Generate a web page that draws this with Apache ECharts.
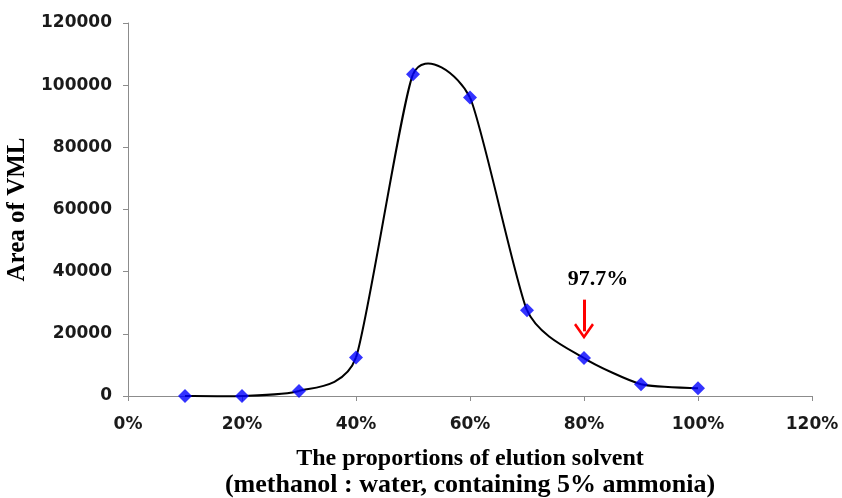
<!DOCTYPE html>
<html><head><meta charset="utf-8">
<script src="https://cdn.jsdelivr.net/npm/echarts@6/dist/echarts.min.js"></script>
<style>html,body{margin:0;padding:0;background:#fff}#c{width:842px;height:498px}</style>
</head><body><div id="c"></div>
<script>
const proportions = [0.1, 0.2, 0.3, 0.4, 0.5, 0.6, 0.7, 0.8, 0.9, 1.0];
const areas = [0, 0, 1600, 12400, 103500, 96000, 27600, 12200, 3800, 2500];
const xTicks = [0, 0.2, 0.4, 0.6, 0.8, 1.0, 1.2];
const yTicks = [0, 20000, 40000, 60000, 80000, 100000, 120000];
const annotationText = '97.7%';
const arrowX = 0.8;
const arrowFrom = 31000;
const arrowTo = 20800;
const tension = 0.1;

const points = proportions.map((p, i) => [p, areas[i]]);
const chart = echarts.init(document.getElementById('c'));
const tickFont = {fontFamily: 'DejaVu Sans, sans-serif', fontWeight: 'bold', fontSize: 17, color: '#1a1a1a'};
const serif = 'Liberation Serif, Times New Roman, serif';

function renderSegment(params, api) {
  const i = params.dataIndex;
  const n = points.length;
  if (i >= n - 1) return null;
  const c = k => api.coord(points[Math.max(0, Math.min(n - 1, k))]);
  const p0 = c(i - 1), p1 = c(i), p2 = c(i + 1), p3 = c(i + 2);
  const cp1 = [p1[0] + (p2[0] - p0[0]) * tension, p1[1] + (p2[1] - p0[1]) * tension];
  const cp2 = [p2[0] - (p3[0] - p1[0]) * tension, p2[1] - (p3[1] - p1[1]) * tension];
  return {
    type: 'bezierCurve',
    shape: {x1: p1[0], y1: p1[1], x2: p2[0], y2: p2[1], cpx1: cp1[0], cpy1: cp1[1], cpx2: cp2[0], cpy2: cp2[1]},
    style: {stroke: '#000', lineWidth: 2, fill: null}
  };
}

chart.setOption({
  animation: false,
  grid: {left: 128, right: 30, top: 23, bottom: 102, containLabel: false, outerBoundsMode: 'none'},
  xAxis: {
    type: 'value', min: xTicks[0], max: xTicks[xTicks.length-1], interval: 0.2,
    name: '{a|The proportions of elution solvent}\n{b|(methanol : water, containing 5% ammonia)}',
    nameLocation: 'middle', nameGap: 49,
    nameTextStyle: {
      rich: {
        a: {fontFamily: serif, fontWeight: 'bold', fontSize: 24, color: '#000', lineHeight: 27},
        b: {fontFamily: serif, fontWeight: 'bold', fontSize: 26, color: '#000', lineHeight: 27}
      }
    },
    axisLine: {lineStyle: {color: '#8c8c8c', width: 1}},
    axisTick: {show: true, length: 5, lineStyle: {color: '#8c8c8c'}},
    axisLabel: Object.assign({margin: 20, formatter: v => Math.round(v*100) + '%'}, tickFont),
    splitLine: {show: false}
  },
  yAxis: {
    type: 'value', min: yTicks[0], max: yTicks[yTicks.length-1], interval: 20000,
    name: 'Area of VML', nameLocation: 'middle', nameGap: 91,
    nameTextStyle: {fontFamily: serif, fontWeight: 'bold', fontSize: 25, color: '#000'},
    axisLine: {show: true, lineStyle: {color: '#8c8c8c', width: 1}},
    axisTick: {show: true, length: 5, lineStyle: {color: '#8c8c8c'}},
    axisLabel: Object.assign({margin: 16, formatter: v => String(v)}, tickFont),
    splitLine: {show: false}
  },
  series: [{
    type: 'custom',
    renderItem: renderSegment,
    data: points,
    silent: true,
    z: 2
  }, {
    type: 'scatter',
    data: points,
    symbol: 'diamond', symbolSize: 14,
    itemStyle: {color: '#0000ff'},
    z: 3,
    markLine: {
      silent: true,
      symbol: ['none', 'path://M0,14 L10,0 L20,14 L18,15.5 L10,4.5 L2,15.5 Z'],
      symbolSize: [20, 16],
      lineStyle: {color: '#ff0000', width: 3, type: 'solid'},
      label: {show: true, position: 'start', formatter: annotationText, distance: 9,
        fontFamily: serif, fontWeight: 'bold', fontSize: 22, color: '#000', offset: [14, 0]},
      data: [[{coord: [arrowX, arrowFrom]}, {coord: [arrowX, arrowTo]}]]
    }
  }]
});
</script>
</body></html>
